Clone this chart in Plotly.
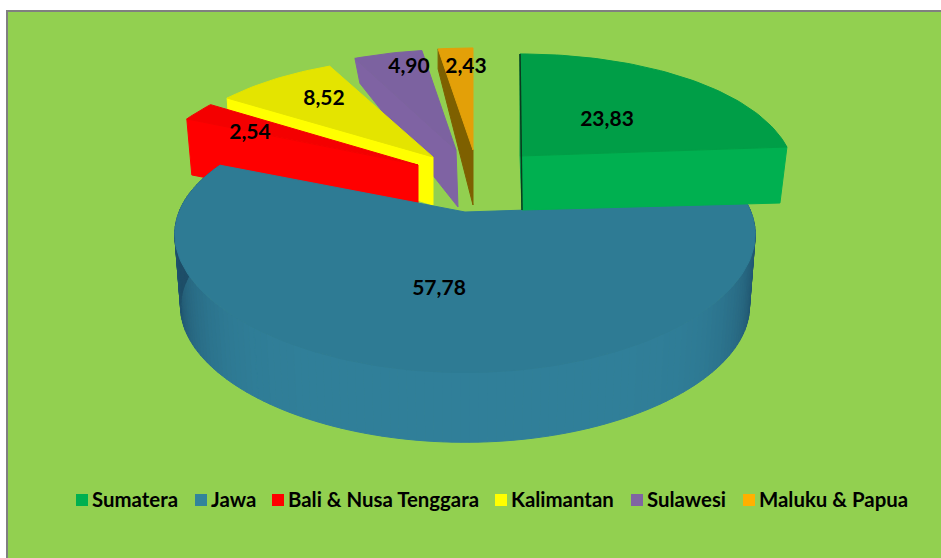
import math
import plotly.graph_objects as go

categories = ["Sumatera", "Jawa", "Bali & Nusa Tenggara", "Kalimantan", "Sulawesi", "Maluku & Papua"]
values = [23.83, 57.78, 2.54, 8.52, 4.90, 2.43]
legend_colors = ["#00B050", "#31849B", "#FF0000", "#FFFF00", "#8064A2", "#FFB000"]
top_colors = ["#009E47", "#2E7B94", "#F40000", "#E4E400", "#7C62A0", "#E3A008"]
wall_colors = ["#00B050", "#307F99", "#FF0000", "#FFFF00", "#7F63A3", "#7E6000"]

# Projection constants (pixel-space view of the tilted disc)
KX, KY = 0.17, 0.215
# Exploded position and extrusion of each slice: apex x/y, radii, wall drop at apex/rim, wall skew
view = {
    "Sumatera": dict(ax=520, ay=156, rx=271, ry=124, d0=54, d1=56, dx0=2, dx1=-7, cut=1),
    "Jawa": dict(ax=465, ay=212, rx=286, ry=126, d0=73, d1=73, dx0=0, dx1=0, cut=None),
    "Bali & Nusa Tenggara": dict(ax=418, ay=165, rx=270, ry=124, d0=54, d1=56, dx0=0, dx1=5, cut=0),
    "Kalimantan": dict(ax=433, ay=157, rx=268, ry=121, d0=48, d1=45, dx0=0, dx1=3, cut=0),
    "Sulawesi": dict(ax=456, ay=150, rx=262, ry=122, d0=57, d1=25, dx0=2, dx1=5, cut=0),
    "Maluku & Papua": dict(ax=473, ay=150, rx=268, ry=124, d0=55, d1=20, dx0=0, dx1=0, cut=0),
}
draw_order = ["Maluku & Papua", "Sulawesi", "Kalimantan", "Bali & Nusa Tenggara", "Jawa", "Sumatera"]
label_xy = {
    "Sumatera": (607, 121), "Jawa": (439, 290), "Bali & Nusa Tenggara": (250, 134),
    "Kalimantan": (324, 100), "Sulawesi": (409, 68), "Maluku & Papua": (466, 68),
}
legend_x = [82, 201, 278, 501, 637, 749]
legend_y = 500


def project(v, deg, scale=1.0, dy=0.0, dx=0.0, r=1.0):
    a = math.radians(deg)
    u, w = r * math.sin(a), r * math.cos(a)
    x = v["ax"] + dx + scale * v["rx"] * u / (1 + KX * w)
    y = v["ay"] + dy - scale * v["ry"] * w / (1 + KY * w)
    return x, y


def mix(c1, c2, t):
    p = [int(c1[i:i + 2], 16) for i in (1, 3, 5)]
    q = [int(c2[i:i + 2], 16) for i in (1, 3, 5)]
    return "#" + "".join(f"{round(a + (b - a) * t):02x}" for a, b in zip(p, q))


def poly(fig, pts, color, name, line=None):
    fig.add_trace(go.Scatter(
        x=[p[0] for p in pts] + [pts[0][0]], y=[p[1] for p in pts] + [pts[0][1]],
        mode="lines", fill="toself", fillcolor=color,
        line=dict(color=line or color, width=1), name=name, showlegend=False,
        hoverinfo="name",
    ))


bounds = [0.0]
for val in values:
    bounds.append(bounds[-1] + val * 3.6 * 100 / sum(values))
span = {c: (bounds[i], bounds[i + 1]) for i, c in enumerate(categories)}
idx = {c: i for i, c in enumerate(categories)}

fig = go.Figure()

for cat in draw_order:
    v, (a0, a1), i = view[cat], span[cat], idx[cat]
    n = max(4, int((a1 - a0) / 1.5))
    angles = [a0 + (a1 - a0) * k / n for k in range(n + 1)]
    if cat == "Jawa":
        # Curved outer wall, darkening towards the silhouette edges
        for k in range(n):
            b0, b1 = angles[k], angles[k + 1]
            mid = math.radians((b0 + b1) / 2)
            t = min(1.0, abs(math.sin(mid)) ** 7)
            col = mix(wall_colors[i], "#1E4E68", t)
            pts = [project(v, b0), project(v, b1),
                   project(v, b1, scale=0.98, dy=v["d0"]), project(v, b0, scale=0.98, dy=v["d0"])]
            poly(fig, pts, col, cat)
    else:
        cut_angle = a0 if v["cut"] == 0 else a1
        apex_x, apex_y = v["ax"], v["ay"]
        rim = project(v, cut_angle)
        rim_low = (rim[0] + v["dx1"], rim[1] + v["d1"])
        poly(fig, [(apex_x, apex_y), rim, rim_low, (apex_x + v["dx0"], apex_y + v["d0"])],
             wall_colors[i], cat)
    face = [(v["ax"], v["ay"])] + [project(v, a) for a in angles]
    poly(fig, face, top_colors[i], cat)
    if cat == "Sumatera":
        edge = project(v, a0)
        fig.add_trace(go.Scatter(
            x=[edge[0], v["ax"] + v["dx0"]], y=[edge[1], v["ay"] + v["d0"]],
            mode="lines", line=dict(color="#0A3A1E", width=1.5), showlegend=False, hoverinfo="skip",
        ))

# Data labels
fig.add_trace(go.Scatter(
    x=[label_xy[c][0] for c in categories], y=[label_xy[c][1] for c in categories],
    text=[f"{val:.2f}".replace(".", ",") for val in values],
    mode="text", textposition="middle center",
    textfont=dict(family="Lato", size=21, color="#000000", weight="bold"),
    showlegend=False, hoverinfo="skip",
))

# Legend row
fig.add_trace(go.Scatter(
    x=legend_x, y=[legend_y] * len(categories),
    mode="markers", marker=dict(symbol="square", size=12, color=legend_colors),
    showlegend=False, hoverinfo="skip",
))
fig.add_trace(go.Scatter(
    x=[x + 10 for x in legend_x], y=[legend_y + 2] * len(categories), text=categories,
    mode="text", textposition="middle right",
    textfont=dict(family="Lato", size=20.4, color="#000000", weight="bold"),
    showlegend=False, hoverinfo="skip",
))

fig.update_layout(
    width=941, height=558, margin=dict(l=0, r=0, t=0, b=0),
    paper_bgcolor="#FFFFFF", plot_bgcolor="#FFFFFF", showlegend=False,
    xaxis=dict(range=[0, 941], visible=False, fixedrange=True),
    yaxis=dict(range=[558, 0], visible=False, fixedrange=True),
    shapes=[dict(type="rect", x0=7, y0=11, x1=960, y1=580, layer="below",
                 fillcolor="#92D050", line=dict(color="#808080", width=2))],
)
fig.write_html("out.html", config={"displayModeBar": False},
               post_script="document.body.style.margin='0';document.body.style.overflow='hidden';")
